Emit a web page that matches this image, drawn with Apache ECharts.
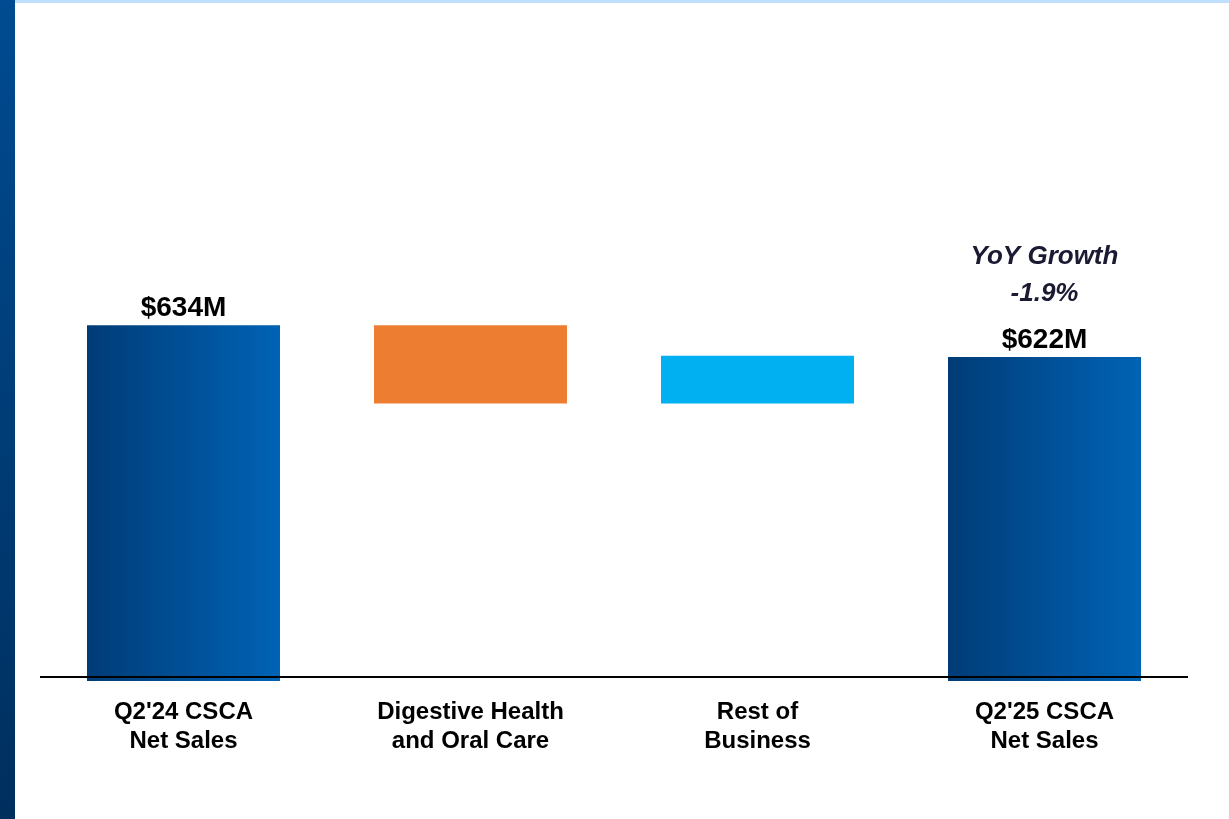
<!DOCTYPE html>
<html>
<head>
<meta charset="utf-8">
<script src="https://cdn.jsdelivr.net/npm/echarts@6/dist/echarts.min.js"></script>
<style>
    html, body { margin: 0; padding: 0; background: #fff; }
    #side { position: absolute; left: 0; top: 0; width: 15px; height: 819px; background: linear-gradient(#004b91, #002f5e); }
    #topBand { position: absolute; left: 15px; top: 0; width: 1214px; height: 3px; background: #bfdfff; }
    #chart { position: absolute; left: 0; top: 0; width: 1229px; height: 819px; }
</style>
</head>
<body>
<div id="chart"></div>
<div id="side"></div>
<div id="topBand"></div>
<script>
// categories and values ($M)
var categories = ["Q2'24 CSCA\nNet Sales", "Digestive Health\nand Oral Care", "Rest of\nBusiness", "Q2'25 CSCA\nNet Sales"];
var startValue = 634;
var changes = [-29.5, 18];
var endValue = 622;
var growthText = ["YoY Growth", "-1.9%"];

// build waterfall helper / visible parts
var helper = [0];
var visible = [startValue];
var running = startValue;
for (var i = 0; i < changes.length; i++) {
    var next = running + changes[i];
    helper.push(Math.min(running, next));
    visible.push(Math.abs(changes[i]));
    running = next;
}
helper.push(0);
visible.push(endValue);

var barColors = [null, '#ed7d31', '#00b0f0', null];
var totalGradient = new echarts.graphic.LinearGradient(0, 0, 1, 0, [
    {offset: 0, color: '#003c77'},
    {offset: 1, color: '#0063b5'}
]);

var chart = echarts.init(document.getElementById('chart'));
var option = {
    animation: false,
    textStyle: {fontFamily: 'Liberation Sans, Arial, sans-serif'},
    grid: {left: 40, right: 41, top: 150, bottom: 138},
    xAxis: {
        type: 'category',
        data: categories,
        axisLine: {show: false},
        axisTick: {show: false},
        axisLabel: {
            color: '#000', fontSize: 24, fontWeight: 'bold', lineHeight: 29, margin: 17
        }
    },
    yAxis: {
        type: 'value', min: 500, max: 700, show: false,
        splitLine: {show: false}
    },
    series: [
        {
            type: 'bar', stack: 'wf', barWidth: 193,
            itemStyle: {color: 'transparent'},
            data: helper,
            silent: true
        },
        {
            type: 'bar', stack: 'wf', barWidth: 193,
            data: visible.map(function (v, idx) {
                var item = {value: v, itemStyle: {color: barColors[idx] || totalGradient}};
                if (idx === 0) {
                    item.label = {show: true, formatter: '$' + startValue + 'M'};
                }
                if (idx === visible.length - 1) {
                    item.label = {
                        show: true,
                        formatter: '{g|' + growthText[0] + '}\n{g|' + growthText[1] + '}\n{s| }\n{v|$' + endValue + 'M}',
                        rich: {
                            g: {fontSize: 26, fontWeight: 'bold', fontStyle: 'italic', color: '#1a1a33', lineHeight: 37},
                            s: {fontSize: 10, lineHeight: 13},
                            v: {fontSize: 28, fontWeight: 'bold', color: '#000', lineHeight: 30}
                        }
                    };
                }
                return item;
            }),
            label: {
                show: false, position: 'top', distance: 2,
                color: '#000', fontSize: 28, fontWeight: 'bold', lineHeight: 30
            },
            markLine: {
                silent: true,
                symbol: 'none',
                label: {show: false},
                lineStyle: {color: '#000', width: 2, type: 'solid'},
                data: [{yAxis: 501.5}]
            }
        }
    ]
};
chart.setOption(option);
</script>
</body>
</html>
